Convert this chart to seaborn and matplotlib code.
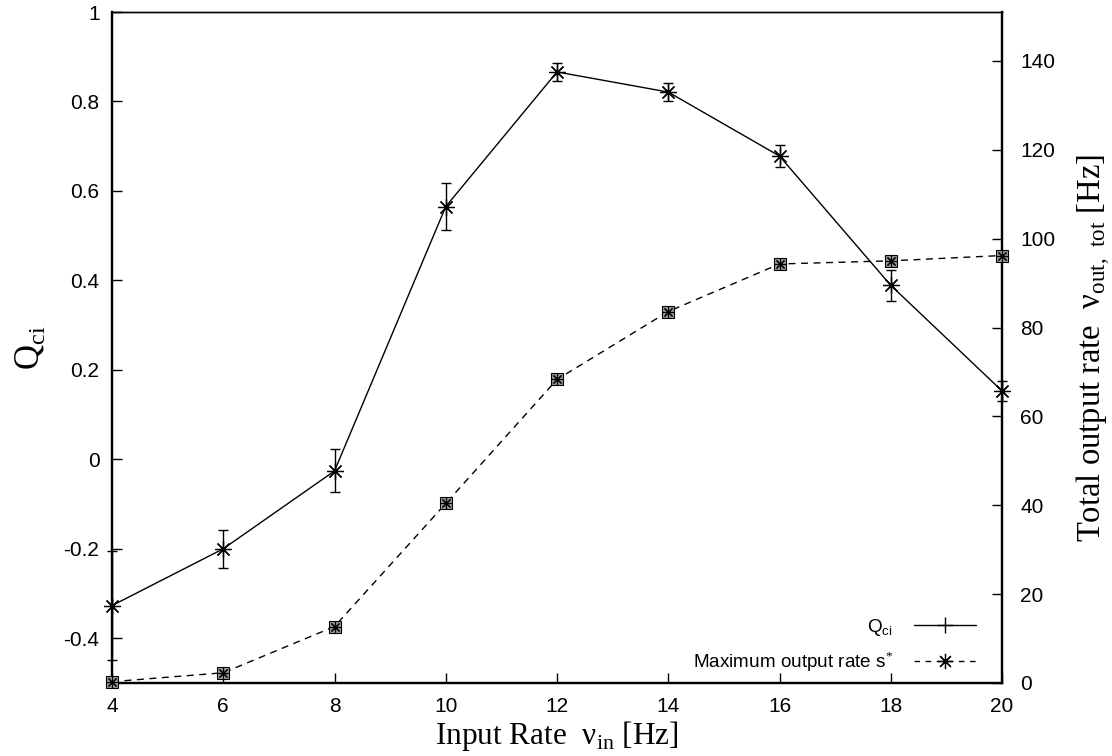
import matplotlib
matplotlib.use("Agg")
import matplotlib.pyplot as plt
import seaborn as sns
import pandas as pd
from matplotlib.lines import Line2D

input_rate = [4, 6, 8, 10, 12, 14, 16, 18, 20]
q_ci = [-0.327, -0.200, -0.026, 0.565, 0.866, 0.821, 0.678, 0.389, 0.153]
q_err = [0.122, 0.042, 0.048, 0.052, 0.021, 0.020, 0.025, 0.034, 0.023]
max_rate = [0.3, 2.3, 12.7, 40.4, 68.3, 83.6, 94.3, 95.0, 96.2]

x_ticks = [4, 6, 8, 10, 12, 14, 16, 18, 20]
y_ticks = [-0.4, -0.2, 0, 0.2, 0.4, 0.6, 0.8, 1]
y_tick_labels = ["-0.4", "-0.2", "0", "0.2", "0.4", "0.6", "0.8", "1"]
y2_ticks = [0, 20, 40, 60, 80, 100, 120, 140]

sns.set_style("ticks")
plt.rcParams["font.family"] = ["Liberation Sans", "DejaVu Sans"]
plt.rcParams["mathtext.fontset"] = "custom"
plt.rcParams["mathtext.rm"] = "Liberation Serif"
plt.rcParams["text.color"] = "black"
plt.rcParams["xtick.color"] = "black"
plt.rcParams["ytick.color"] = "black"
plt.rcParams["axes.labelcolor"] = "black"
plt.rcParams["axes.edgecolor"] = "black"

df = pd.DataFrame({"x": input_rate, "q": q_ci, "m": max_rate})

fig = plt.figure(figsize=(11.12, 7.56), dpi=100)
ax = fig.add_axes([112 / 1112, 1 - 683 / 756, (1002 - 112) / 1112, (683 - 12) / 756])
ax2 = ax.twinx()

star = (8, 2, 0)

# Q_ci line with error bars
sns.lineplot(data=df, x="x", y="q", ax=ax, color="black", linewidth=1.0,
             legend=False)
ax.plot(input_rate, q_ci, linestyle="none", marker=star, markersize=12,
        markeredgecolor="black", markeredgewidth=0.9, clip_on=False, zorder=5)
ax.errorbar(input_rate, q_ci, yerr=q_err, fmt="none", ecolor="black",
            elinewidth=1.0, capsize=3.5, capthick=1.0, clip_on=False)

# Max output rate line
sns.lineplot(data=df, x="x", y="m", ax=ax2, color="black", linewidth=1.0,
             legend=False)
ax2.lines[-1].set_dashes([5, 4])
ax2.plot(input_rate, max_rate, linestyle="none", marker="s", markersize=8,
         markerfacecolor="#9a9a9a", markeredgecolor="black", markeredgewidth=0.8,
         clip_on=False, zorder=5)
ax2.plot(input_rate, max_rate, linestyle="none", marker=star, markersize=8,
         markeredgecolor="black", markeredgewidth=0.8, clip_on=False, zorder=6)

ax.set_xlim(4, 20)
ax.set_ylim(-0.5, 1.0)
ax2.set_ylim(0, 151)

ax.set_xticks(x_ticks)
ax.set_xticklabels([str(v) for v in x_ticks], fontsize=15)
ax.set_yticks(y_ticks)
ax.set_yticklabels(y_tick_labels, fontsize=15)
ax2.set_yticks(y2_ticks)
ax2.set_yticklabels([str(v) for v in y2_ticks], fontsize=15)

ax.tick_params(axis="y", direction="in", length=7, width=1, pad=9)
ax2.tick_params(axis="y", direction="in", length=7, width=1, pad=13)
ax.tick_params(axis="x", direction="in", length=7, width=1, pad=10)

for a in (ax, ax2):
    for s in ("left", "bottom", "right"):
        a.spines[s].set_linewidth(1.6)
    a.spines["top"].set_linewidth(1.0)

ax.set_xlabel("Input Rate  ν$_{\\mathregular{in}}$ [Hz]", fontfamily="Liberation Serif",
              fontsize=22.5, labelpad=2)
ax.set_ylabel("Q$_{\\mathregular{ci}}$", fontfamily="Liberation Serif", fontsize=25,
              labelpad=12)
ax2.set_ylabel("Total output rate  ν$_{\\mathregular{out,\\ tot}}$ [Hz]",
               fontfamily="Liberation Serif", fontsize=23.5, labelpad=14)

handles = [
    Line2D([0], [0], color="black", linewidth=1.0, marker="+", markersize=11),
    Line2D([0], [0], color="black", linewidth=1.0, dashes=[4, 4], marker=star,
           markersize=11, markeredgewidth=0.9),
]
labels = ["Q$_{\\mathregular{ci}}$", "Maximum output rate s$^{*}$"]
ax.legend(handles, labels, loc="lower right", bbox_to_anchor=(0.99, -0.012),
          frameon=False, markerfirst=False, fontsize=13.6, handlelength=3.3,
          labelspacing=0.6, handletextpad=1.1)

fig.savefig("out.png", dpi=100)
